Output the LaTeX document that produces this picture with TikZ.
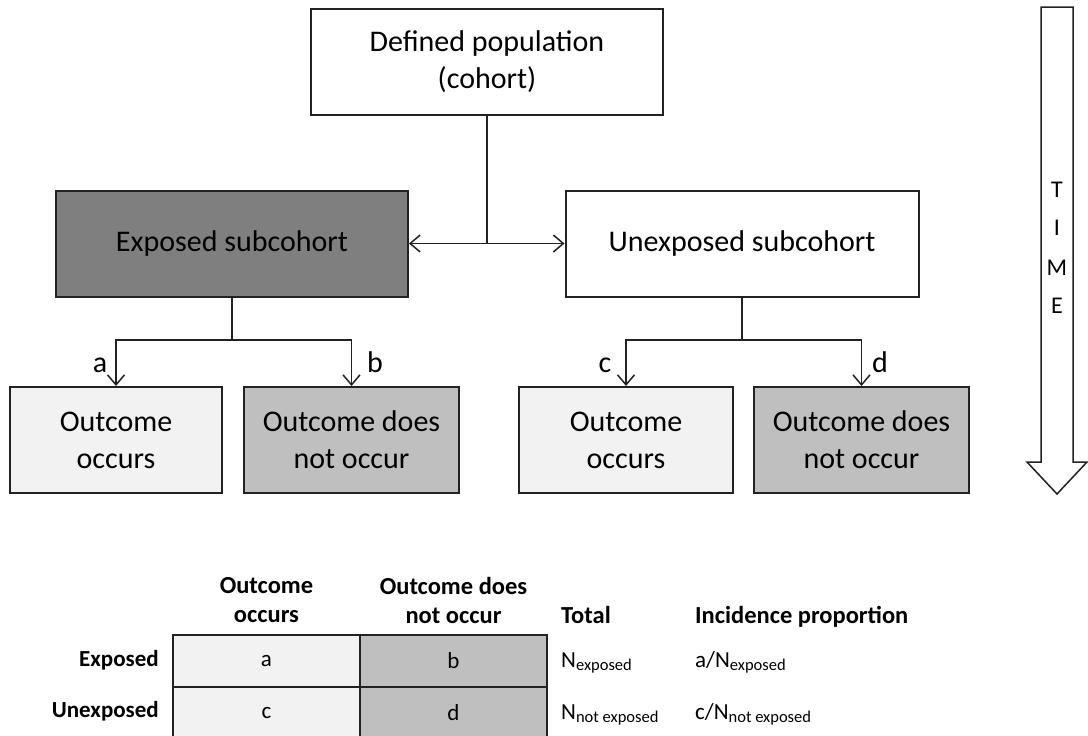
\documentclass[tikz,border=0pt]{standalone}
\usepackage{fontspec}
\setmainfont{Carlito}
\usetikzlibrary{arrows.meta}
\definecolor{darkfill}{HTML}{7F7F7F}
\definecolor{lightfill}{HTML}{F2F2F2}
\definecolor{midfill}{HTML}{BFBFBF}
\definecolor{ink}{HTML}{222222}
\newcommand{\subtxt}[1]{\raisebox{-0.35ex}{\fontsize{16.5}{16.5}\selectfont #1}}
\begin{document}
\begin{tikzpicture}[x=1pt,y=-1pt,
  box/.style={draw=ink, line width=2pt, minimum height=106pt, align=center, inner sep=0pt, font=\fontsize{30}{37}\selectfont},
  conn/.style={line width=1.5pt, draw=ink},
  tip/.style={-{Straight Barb[length=10pt,width=17pt,line width=1.5pt]}},
  lbl/.style={inner sep=0pt, anchor=base, font=\fontsize{30}{36}\selectfont},
  timel/.style={inner sep=0pt, font=\fontsize{24}{28}\selectfont},
  cell/.style={draw=ink, line width=1.5pt, minimum width=187pt, minimum height=52pt, inner sep=0pt, font=\fontsize{23}{28}\selectfont},
  hdr/.style={inner sep=0pt, align=center, font=\fontsize{24.5}{29}\selectfont\bfseries},
  rowl/.style={inner sep=0pt, anchor=base east, font=\fontsize{23}{28}\selectfont\bfseries},
  txt/.style={inner sep=0pt, font=\fontsize{23}{28}\selectfont}]
\useasboundingbox (0,0) rectangle (1088,736);
\clip (0,0) rectangle (1088,736);
\fill[white] (0,0) rectangle (1088,736);

% boxes
\node[box, minimum width=352pt] (def) at (487,61.5) {Defined population\\(cohort)};
\node[box, fill=darkfill, minimum width=352pt] (exp) at (232,243.5) {Exposed subcohort};
\node[box, minimum width=353pt] (unexp) at (742,243.5) {Unexposed subcohort};
\node[box, fill=lightfill, minimum width=212pt] (o1) at (116,440) {Outcome\\occurs};
\node[box, fill=midfill, minimum width=215pt] (o2) at (351.5,440) {Outcome does\\not occur};
\node[box, fill=lightfill, minimum width=214pt] (o3) at (626,440) {Outcome\\occurs};
\node[box, fill=midfill, minimum width=215pt] (o4) at (861.5,440) {Outcome does\\not occur};

% connectors
\coordinate (j1) at (def.south |- exp.east);
\draw[conn] (def.south) -- (j1);
\draw[conn,tip] (j1) -- (exp.east);
\draw[conn,tip] (j1) -- (unexp.west);
\coordinate (j2) at (232,340);
\draw[conn] (exp.south) -- (j2);
\draw[conn,tip] (j2) -| (o1.north);
\draw[conn,tip] (j2) -| (o2.north);
\coordinate (j3) at (742,340);
\draw[conn] (unexp.south) -- (j3);
\draw[conn,tip] (j3) -| (o3.north);
\draw[conn,tip] (j3) -| (o4.north);
\node[lbl] (la) at (100,372) {a};
\node[lbl] (lb) at (375,372) {b};
\node[lbl] (lc) at (605,372) {c};
\node[lbl] (ld) at (880,372) {d};

% time arrow
\draw[line width=1.5pt, draw=ink, fill=white, line join=miter]
  (1041,7) -- (1073,7) -- (1073,462) -- (1087,462) -- (1057,494) -- (1027,462) -- (1041,462) -- cycle;
\node[timel] (tT) at (1057,190) {T};
\node[timel] (tI) at (1057,228) {I};
\node[timel] (tM) at (1057,268) {M};
\node[timel] (tE) at (1057,306) {E};

% table
\node[cell, fill=lightfill] (ca) at (266.5,661) {a};
\node[cell, fill=midfill] (cb) at (453.5,661) {b};
\node[cell, fill=lightfill] (cc) at (266.5,713) {c};
\node[cell, fill=midfill] (cd) at (453.5,713) {d};
\node[hdr] (h1) at (266.5,600) {Outcome\\occurs};
\node[hdr] (h2) at (453.5,600) {Outcome does\\not occur};
\node[hdr, anchor=base west] (h3) at (561,623) {Total};
\node[hdr, anchor=base west] (h4) at (695,623) {Incidence proportion};
\node[rowl] (r1) at (159,666) {Exposed};
\node[rowl] (r2) at (159,717) {Unexposed};
\node[txt, anchor=base west] (n1) at (561,667) {N\subtxt{exposed}};
\node[txt, anchor=base west] (p1) at (695,667) {a/N\subtxt{exposed}};
\node[txt, anchor=base west] (n2) at (561,719) {N\subtxt{not exposed}};
\node[txt, anchor=base west] (p2) at (695,719) {c/N\subtxt{not exposed}};
\end{tikzpicture}
\end{document}
